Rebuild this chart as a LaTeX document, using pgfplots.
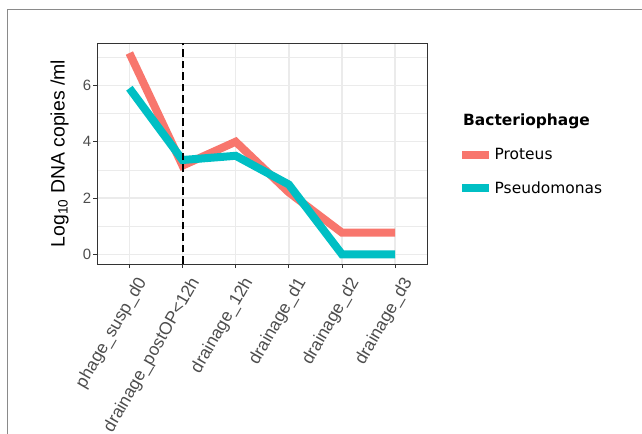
\documentclass[border=0pt]{standalone}
\usepackage{fontspec}
\setmainfont{Liberation Sans}
\newfontfamily\dejavu{DejaVu Sans}
\usepackage{pgfplots}
\pgfplotsset{compat=1.18}
\definecolor{cProt}{HTML}{F8766D}
\definecolor{cPseu}{HTML}{00BFC4}
\definecolor{grid92}{HTML}{EBEBEB}
\definecolor{grey20}{HTML}{333333}
\definecolor{grey30}{HTML}{4D4D4D}
\definecolor{frameg}{HTML}{8A8A8A}
\begin{document}
\begin{tikzpicture}
\clip (0,0) rectangle (642bp,434bp);
\useasboundingbox (0,0) rectangle (642bp,434bp);
\draw[frameg, line width=1bp] (7bp,0) -- (7bp,424.7bp) -- (642bp,424.7bp);
\begin{axis}[
  at={(97.5bp,170bp)}, anchor=south west,
  width=329.5bp, height=221bp, scale only axis,
  xmin=-0.6, xmax=5.6, ymin=-0.344, ymax=7.507,
  xtick={0,1,2,3,4,5},
  xticklabels={phage\_susp\_d0, drainage\_postOP<12h, drainage\_12h, drainage\_d1, drainage\_d2, drainage\_d3},
  ytick={0,2,4,6}, minor ytick={1,3,5,7},
  grid=both,
  major grid style={grid92, line width=1.4bp},
  minor grid style={grid92, line width=0.7bp},
  axis line style={grey20, line width=0.9bp},
  tick align=outside, major tick length=4bp, minor tick length=0pt,
  tick style={grey20, line width=0.9bp},
  xtick pos=bottom, ytick pos=left,
  /pgf/number format/assume math mode=true,
  yticklabel style={font=\fontsize{15}{17}\selectfont, text=grey30, inner sep=2bp},
  xticklabel style={font=\fontsize{17.5}{19}\selectfont, text=grey30, rotate=60, anchor=north east, inner sep=1bp, yshift=-8bp, xshift=-2bp},
  ylabel={Log\textsubscript{10} DNA copies /ml},
  ylabel style={at={(axis description cs:-0.077,0.5)}, anchor=south, font=\fontsize{19.5}{21}\selectfont, text=black},
  legend style={at={(axis description cs:1.094,0.532)}, anchor=north west, draw=none, fill=none,
    font=\dejavu\fontsize{15.5}{17}\selectfont, row sep=18bp, inner sep=0pt,
    nodes={inner sep=1.5bp}},
  legend cell align=left,
  legend image code/.code={\draw[#1, line width=8bp] (0bp,0bp) -- (27bp,0bp);},
  clip=true,
]
\addplot[cProt, line width=8bp, line join=miter] coordinates {(0,7.15) (1,3.15) (2,4.0) (3,2.2) (4,0.77) (5,0.77)};
\addlegendentry{Proteus}
\addplot[cPseu, line width=8bp, line join=miter] coordinates {(0,5.9) (1,3.35) (2,3.5) (3,2.48) (4,0) (5,0)};
\addlegendentry{Pseudomonas}
\addplot[black, line width=2bp, dash pattern=on 7.5bp off 4bp, forget plot] coordinates {(1,-0.344) (1,7.507)};
\end{axis}
\node[anchor=base west, inner sep=0pt, font=\dejavu\bfseries\fontsize{15.5}{17}\selectfont] at (463bp,308bp) {Bacteriophage};
\end{tikzpicture}
\end{document}
